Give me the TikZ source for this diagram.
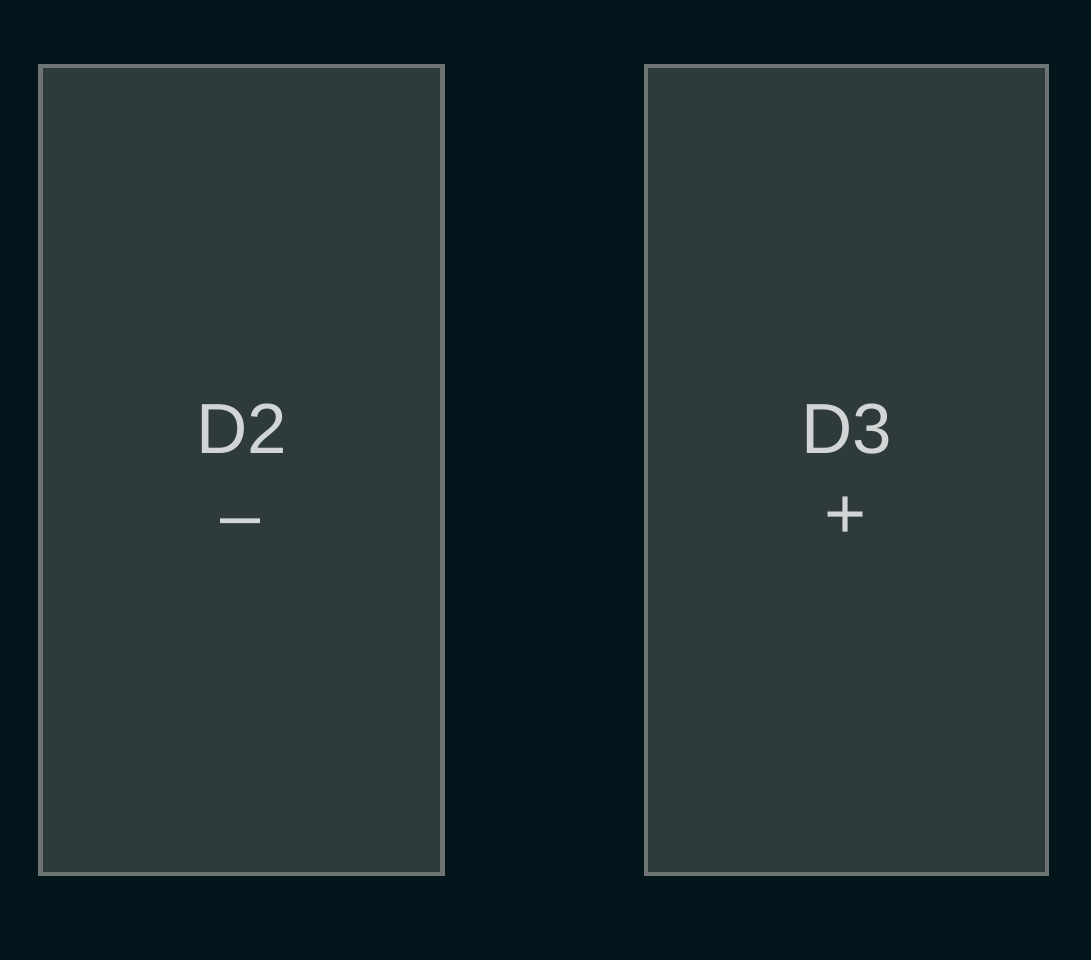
\documentclass[tikz,border=0pt]{standalone}
\usepackage{fontspec}
\setmainfont{Liberation Sans}
\definecolor{bgc}{HTML}{01151A}
\definecolor{boxfill}{HTML}{2F3A3B}
\definecolor{boxline}{HTML}{6E7373}
\definecolor{txt}{HTML}{D2D5D5}
\begin{document}
\begin{tikzpicture}[x=1pt,y=-1pt,
  panel/.style={draw=boxline,fill=boxfill,line width=4.5pt},
  lbl/.style={text=txt,font=\fontsize{71}{71}\selectfont,inner sep=0pt,anchor=base},
  sgn/.style={text=txt,font=\fontsize{72}{72}\selectfont,inner sep=0pt,anchor=base}]
\fill[bgc] (0,0) rectangle (1091,960);
\useasboundingbox (0,0) rectangle (1091,960);
\draw[panel] (40.5,66) rectangle (442.5,874);
\draw[panel] (646,66) rectangle (1047,874);
\node[lbl] (d2) at (242,453) {D2};
\node[sgn] (m) at (241,539) {–};
\node[lbl] (d3) at (847,453) {D3};
\node[sgn] (p) at (846,538) {+};
\end{tikzpicture}
\end{document}
